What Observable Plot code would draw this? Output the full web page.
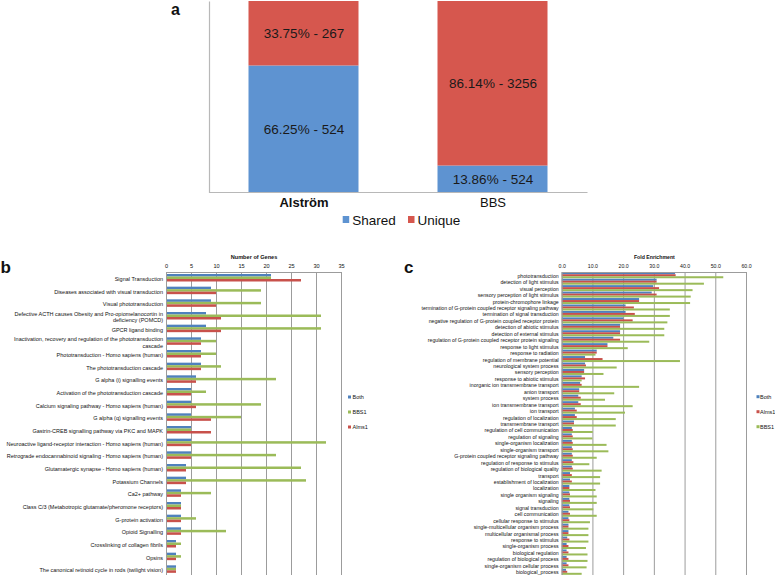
<!DOCTYPE html>
<html><head><meta charset="utf-8">
<script src="https://cdn.jsdelivr.net/npm/d3@7"></script>
<script src="https://cdn.jsdelivr.net/npm/@observablehq/plot@0.6"></script>
<style>
html,body{margin:0;padding:0;background:#fff;overflow:hidden}
#wrap{position:relative;width:775px;height:575px;overflow:hidden;font-family:"Liberation Sans",Arial,Helvetica,sans-serif}
.panel{position:absolute}
.panel svg{display:block;overflow:visible}
#deco{position:absolute;left:0;top:0;pointer-events:none}
</style></head><body><div id="wrap">
<div class="panel" id="pa" style="left:0;top:0"></div>
<div class="panel" id="pb" style="left:0;top:250px"></div>
<div class="panel" id="pc" style="left:380px;top:250px"></div>
<svg id="deco" width="775" height="575"></svg>
</div>
<script>
const FONT = '"Liberation Sans",Arial,Helvetica,sans-serif';

// ---- Panel a data ----
const aGroups = ["Alström", "BBS"];
const aKinds = ["Shared", "Unique"];
const aShared = [524, 524];
const aUnique = [267, 3256];
const aSharedPct = ["66.25%", "13.86%"];
const aUniquePct = ["33.75%", "86.14%"];
const aColors = ["#5e93d1", "#d6574e"];

// ---- Panel b data ----
const bCats = [
  "Signal Transduction",
  "Diseases associated with visual transduction",
  "Visual phototransduction",
  "Defective ACTH causes Obesity and Pro-opiomelanocortin in\ndeficiency (POMCD)",
  "GPCR ligand binding",
  "Inactivation, recovery and regulation of the phototransduction\ncascade",
  "Phototransduction - Homo sapiens (human)",
  "The phototransduction cascade",
  "G alpha (i) signalling events",
  "Activation of the phototransduction cascade",
  "Calcium signaling pathway - Homo sapiens (human)",
  "G alpha (q) signalling events",
  "Gastrin-CREB signalling pathway via PKC and MAPK",
  "Neuroactive ligand-receptor interaction - Homo sapiens (human)",
  "Retrograde endocannabinoid signaling - Homo sapiens (human)",
  "Glutamatergic synapse - Homo sapiens (human)",
  "Potassium Channels",
  "Ca2+ pathway",
  "Class C/3 (Metabotropic glutamate/pheromone receptors)",
  "G-protein activation",
  "Opioid Signalling",
  "Crosslinking of collagen fibrils",
  "Opsins",
  "The canonical retinoid cycle in rods (twilight vision)"
];
const bBoth  = [21, 9, 9, 8, 8, 7, 7, 7, 6, 5, 5, 5, 5, 5, 5, 4, 4, 3, 3, 3, 3, 2, 2, 2];
const bBBS1  = [21, 19, 19, 31, 31, 10, 10, 11, 22, 8, 19, 15, 5, 32, 22, 27, 28, 9, 3, 6, 12, 3, 3, 2];
const bAlms1 = [27, 10, 10, 11, 11, 7, 7, 7, 6, 5, 6, 9, 9, 5, 5, 4, 4, 3, 3, 3, 3, 2, 2, 2];
const bTicks = [0, 5, 10, 15, 20, 25, 30, 35];
const bSeries = ["Both", "BBS1", "Alms1"];
const bColors = ["#4f81bd", "#9bbb59", "#c8514b"];

// ---- Panel c data ----
const cCats = [
  "phototransduction",
  "detection of light stimulus",
  "visual perception",
  "sensory perception of light stimulus",
  "protein-chromophore linkage",
  "termination of G-protein coupled receptor signaling pathway",
  "termination of signal transduction",
  "negative regulation of G-protein coupled receptor protein",
  "detection of abiotic stimulus",
  "detection of external stimulus",
  "regulation of G-protein coupled receptor protein signaling",
  "response to light stimulus",
  "response to radiation",
  "regulation of membrane potential",
  "neurological system process",
  "sensory perception",
  "response to abiotic stimulus",
  "inorganic ion transmembrane transport",
  "anion transport",
  "system process",
  "ion transmembrane transport",
  "ion transport",
  "regulation of localization",
  "transmembrane transport",
  "regulation of cell communication",
  "regulation of signaling",
  "single-organism localization",
  "single-organism transport",
  "G-protein coupled receptor signaling pathway",
  "regulation of response to stimulus",
  "regulation of biological quality",
  "transport",
  "establishment of localization",
  "localization",
  "single organism signaling",
  "signaling",
  "signal transduction",
  "cell communication",
  "cellular response to stimulus",
  "single-multicellular organism process",
  "multicellular organismal process",
  "response to stimulus",
  "single-organism process",
  "biological regulation",
  "regulation of biological process",
  "single-organism cellular process",
  "biological_process"
];
const cBoth = [36.9, 30.9, 29.8, 29.3, 25.2, 20.8, 20.8, 20.1, 19.0, 19.0, 16.8, 14.9, 11.4, 7.6, 7.6, 7.3, 6.5, 6.0, 5.7, 5.4, 5.4, 4.3, 4.3, 4.0, 3.3, 3.3, 3.3, 3.3, 3.3, 3.3, 3.3, 2.7, 2.7, 2.5, 2.5, 2.5, 2.5, 2.2, 2.2, 2.2, 2.2, 1.8, 1.6, 1.6, 1.6, 1.6, 1.4];
const cAlms1 = [37.1, 30.9, 31.7, 30.9, 25.2, 23.5, 23.8, 23.1, 19.0, 19.0, 19.0, 14.9, 11.4, 13.3, 7.9, 7.3, 7.6, 6.5, 5.7, 6.2, 6.2, 4.9, 4.9, 4.0, 3.6, 3.6, 3.6, 3.6, 3.6, 3.8, 3.6, 3.3, 3.3, 2.5, 2.7, 2.7, 2.7, 2.7, 2.5, 2.2, 2.2, 2.5, 2.2, 2.2, 2.2, 2.2, 1.8];
const cBBS1 = [52.6, 46.3, 42.6, 42.0, 41.8, 35.2, 35.2, 34.4, 33.4, 33.4, 28.5, 21.5, 11.0, 38.5, 17.9, 13.6, 6.5, 25.2, 17.1, 14.1, 23.1, 20.6, 17.6, 17.6, 10.1, 10.0, 14.6, 15.2, 11.4, 9.0, 13.0, 12.5, 12.5, 11.0, 11.4, 11.4, 10.3, 11.4, 9.2, 8.7, 8.7, 8.7, 7.9, 8.4, 8.4, 8.1, 6.5];
const cTicks = [0, 10, 20, 30, 40, 50, 60];
const cSeries = ["Both", "Alms1", "BBS1"];
const cColors = ["#4f81bd", "#c8514b", "#9bbb59"];

// ================= Panel a =================
const rowsA = aGroups.flatMap((g, i) => [
  {group: g, kind: aKinds[0], n: aShared[i], label: `${aSharedPct[i]} - ${aShared[i]}`},
  {group: g, kind: aKinds[1], n: aUnique[i], label: `${aUniquePct[i]} - ${aUnique[i]}`}
]);
const aW = 775, aH = 230, aML = 209, aMR = 188, aMT = 1, aMB = 38;
const aFW = aW - aML - aMR, aFH = aH - aMT - aMB;
const plotA = Plot.plot({
  width: aW, height: aH, marginLeft: aML, marginRight: aMR, marginTop: aMT, marginBottom: aMB,
  x: {domain: aGroups, paddingInner: 0.418, paddingOuter: 0.209, round: false, axis: null},
  y: {axis: null},
  color: {domain: aKinds, range: aColors},
  style: {fontFamily: FONT, background: "transparent", color: "#111"},
  marks: [
    Plot.barY(rowsA, Plot.stackY({offset: "normalize"}, {x: "group", y: "n", fill: "kind"})),
    Plot.text(rowsA, Plot.stackY({offset: "normalize"}, {x: "group", y: "n", text: "label", fontSize: 13.5, fill: "#1a1a1a"})),
    Plot.frame({stroke: "#b8b8b8", strokeWidth: 1.2, strokeDasharray: `0 ${aFW + aFH} ${aFW + aFH}`}),
    Plot.axisX({ticks: ["Alström"], tickSize: 0, tickPadding: 5, fontSize: 13, fontWeight: "bold", label: null}),
    Plot.axisX({ticks: ["BBS"], tickSize: 0, tickPadding: 5, fontSize: 13, label: null})
  ]
});
document.getElementById("pa").append(plotA);

// ================= grouped horizontal bar helper =================
function groupedBars({cats, series, values, colors, width, height, ml, mr, mt, mb, domain, ticks, tickFormat, title, padTop, barH, fontSize, tickFont}) {
  const rows = cats.map((c, i) => {
    const r = {cat: c};
    series.forEach((s, k) => r[s] = values[k][i]);
    return r;
  });
  const bw = (height - mt - mb) / cats.length;
  const barMarks = series.map((s, k) => Plot.barX(rows, {
    x: s, y: "cat", fill: colors[k],
    insetTop: padTop + k * barH,
    insetBottom: bw - padTop - (k + 1) * barH
  }));
  return Plot.plot({
    width, height, marginLeft: ml, marginRight: mr, marginTop: mt, marginBottom: mb,
    x: {domain, axis: null},
    y: {domain: cats, padding: 0, round: false, axis: null},
    style: {fontFamily: FONT, background: "transparent", color: "#111"},
    marks: [
      Plot.ruleX(ticks, {stroke: "#9c9c9c", strokeWidth: 1}),
      ...barMarks,
      Plot.frame({stroke: "#9c9c9c", strokeWidth: 1}),
      Plot.axisX({anchor: "top", ticks, tickFormat, tickSize: 0, tickPadding: 4.5, fontSize: tickFont, label: null}),
      Plot.axisY({anchor: "left", tickSize: 0, tickPadding: 3.5, fontSize, lineHeight: 1.2, label: null}),
      Plot.text([title], {frameAnchor: "top", dy: -17, fontWeight: "bold", fontSize: tickFont, fill: "#111"})
    ]
  });
}

// ================= Panel b =================
const plotB = groupedBars({
  cats: bCats, series: bSeries, values: [bBoth, bBBS1, bAlms1], colors: bColors,
  width: 390, height: 326, ml: 166, mr: 49, mt: 22, mb: 0,
  domain: [0, 35], ticks: bTicks, tickFormat: d3.format("d"), title: "Number of Genes",
  padTop: 2.0, barH: 2.5, fontSize: 5.5, tickFont: 5.6
});
document.getElementById("pb").append(plotB);

// ================= Panel c =================
const plotC = groupedBars({
  cats: cCats, series: cSeries, values: [cBoth, cAlms1, cBBS1], colors: cColors,
  width: 395, height: 325, ml: 181.7, mr: 29, mt: 22, mb: 0,
  domain: [0, 60], ticks: cTicks, tickFormat: d3.format(".1f"), title: "Fold Enrichment",
  padTop: 0.25, barH: 2.0, fontSize: 5.2, tickFont: 5.2
});
document.getElementById("pc").append(plotC);

// ================= Decorations: panel letters and legends =================
const deco = d3.select("#deco").attr("font-family", FONT);
[["a", 171, 14.5, 16], ["b", 0.5, 273, 17], ["c", 404, 273, 17]].forEach(([t, x, y, fs]) =>
  deco.append("text").attr("x", x).attr("y", y).attr("font-size", fs).attr("font-weight", "bold").attr("fill", "#111").text(t));

// legend a
[[aKinds[0], aColors[0], 342.7, 352.3], [aKinds[1], aColors[1], 408, 417.5]].forEach(([t, c, sx, tx]) => {
  deco.append("rect").attr("x", sx).attr("y", 216).attr("width", 6.5).attr("height", 7).attr("fill", c);
  deco.append("text").attr("x", tx).attr("y", 220).attr("dy", "0.35em").attr("font-size", 13.5).attr("fill", "#111").text(t);
});

// legends b and c
function smallLegend(series, colors, sx, tx, y0) {
  series.forEach((s, k) => {
    const y = y0 + k * 15;
    deco.append("rect").attr("x", sx).attr("y", y - 1.5).attr("width", 3).attr("height", 3).attr("fill", colors[k]);
    deco.append("text").attr("x", tx).attr("y", y).attr("dy", "0.35em").attr("font-size", 5.5).attr("fill", "#111").text(s);
  });
}
smallLegend(bSeries, bColors, 348, 352.5, 397);
smallLegend(cSeries, cColors, 756.5, 760, 396.7);
</script>
</body></html>
